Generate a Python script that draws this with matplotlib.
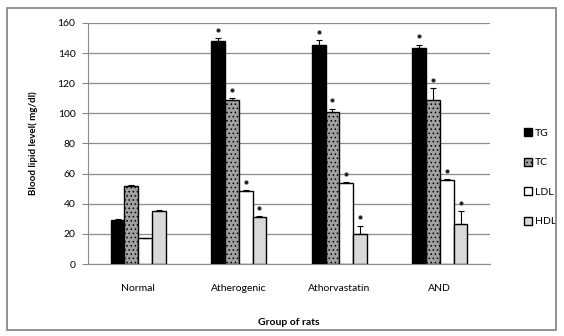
import numpy as np
import matplotlib.pyplot as plt
from matplotlib.patches import Rectangle

plt.rcParams['font.family'] = ['Lato', 'DejaVu Sans']
plt.rcParams['hatch.linewidth'] = 0.6

groups = ["Normal", "Atherogenic", "Athorvastatin", "AND"]
series = ["TG", "TC", "LDL", "HDL"]
tg = [29, 148, 145.5, 143]
tc = [51.5, 109, 101, 109]
ldl = [17, 48.5, 54, 56]
hdl = [35, 31, 20, 26.5]
tg_err = [0.8, 2, 3, 2.5]
tc_err = [0.8, 1, 2, 7.5]
ldl_err = [0.3, 0.5, 0.5, 0.5]
hdl_err = [0.8, 0.8, 5.5, 8.5]
marked = [False, True, True, True]

values = [tg, tc, ldl, hdl]
errors = [tg_err, tc_err, ldl_err, hdl_err]
faces = ["black", "#a0a0a0", "white", "#d9d9d9"]
hatches = [None, "....", None, None]

fig = plt.figure(figsize=(5.64, 3.36), dpi=100)
fig.patches.append(Rectangle((0.013, 0.018), 0.972, 0.958, transform=fig.transFigure,
                             fill=False, edgecolor="#7f7f7f", linewidth=1.2))
ax = fig.add_axes([0.156, 0.214, 0.713, 0.718])

x = np.arange(len(groups))
w = 0.137
for i, (vals, errs) in enumerate(zip(values, errors)):
    pos = x + (i - 1.5) * w
    ax.bar(pos, vals, w, color=faces[i], edgecolor="black", linewidth=1.0,
           hatch=hatches[i], label=series[i], zorder=3)
    ax.errorbar(pos, vals, yerr=[np.zeros(len(errs)), errs], fmt="none",
                ecolor="black", elinewidth=0.8, capsize=2.5, capthick=0.8, zorder=4)
    for p, v, e, m in zip(pos, vals, errs, marked):
        if m:
            ax.plot(p, v + e + 5.5, marker="o", markersize=2.8, color="#1a1a40",
                    markeredgecolor="#c0703a", markeredgewidth=0.3, zorder=5)

ax.set_ylim(0, 160)
ax.set_xlim(-0.5, 3.5)
ax.set_yticks(range(0, 161, 20))
ax.set_xticks(x)
ax.set_xticklabels(groups, fontsize=7.5)
ax.tick_params(axis="y", labelsize=7.5, length=4, color="#888888", pad=5)
ax.tick_params(axis="x", length=0, pad=14)
ax.yaxis.grid(True, color="#8c8c8c", linewidth=0.9, zorder=0)
for s in ["top", "right"]:
    ax.spines[s].set_visible(False)
ax.spines["left"].set_color("#8c8c8c")
ax.spines["bottom"].set_color("#8c8c8c")
ax.set_ylabel("Blood lipid level( mg/dl)", fontsize=7, fontweight="bold", labelpad=14)
ax.set_xlabel("Group of rats", fontsize=7.5, fontweight="bold", labelpad=18)

ax.legend(loc="center left", bbox_to_anchor=(1.06, 0.36), frameon=False,
          fontsize=7.5, handlelength=0.8, handleheight=0.8, handletextpad=0.3,
          labelspacing=1.9)

fig.savefig("out.png", dpi=100)
